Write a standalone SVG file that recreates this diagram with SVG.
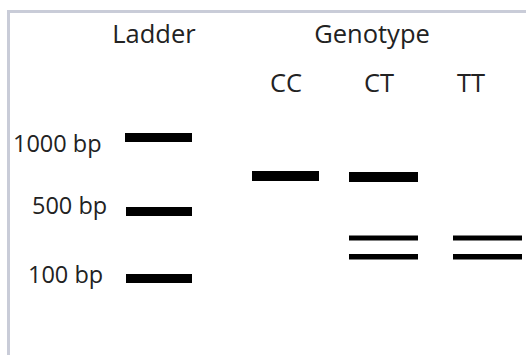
<svg xmlns="http://www.w3.org/2000/svg" width="526" height="355" viewBox="0 0 526 355">
<style>
.t{font-family:"Open Sans","Liberation Sans",sans-serif;fill:#222;}
.h{font-size:25.5px;}
.l{font-size:23.5px;}
.b{fill:#000;}
</style>
<rect width="526" height="355" fill="#fff"/>
<g id="frame">
<path d="M8.5,355 V11.5 H526" fill="none" stroke="#c9ccd8" stroke-width="3"/>
</g>
<g id="headers">
<text class="t h" x="154" y="43" text-anchor="middle">Ladder</text>
<text class="t h" x="372" y="43" text-anchor="middle">Genotype</text>
<text class="t h" x="286" y="92" text-anchor="middle">CC</text>
<text class="t h" x="379" y="92" text-anchor="middle">CT</text>
<text class="t h" x="471" y="92" text-anchor="middle">TT</text>
</g>
<g id="ladder">
<text class="t l" x="13" y="152">1000 bp</text>
<text class="t l" x="32" y="214">500 bp</text>
<text class="t l" x="28" y="283">100 bp</text>
<rect class="b" x="125" y="133" width="67" height="9"/>
<rect class="b" x="126" y="207" width="66" height="9"/>
<rect class="b" x="126" y="274" width="66" height="9"/>
</g>
<g id="lane-CC">
<rect class="b" x="252" y="171" width="67" height="10"/>
</g>
<g id="lane-CT">
<rect class="b" x="349" y="172" width="69" height="10"/>
<rect class="b" x="349" y="235.5" width="69" height="5"/>
<rect class="b" x="349" y="254" width="69" height="5.5"/>
</g>
<g id="lane-TT">
<rect class="b" x="453" y="235.5" width="69" height="5"/>
<rect class="b" x="453" y="254" width="69" height="5.5"/>
</g>
<g id="connectors"/>
</svg>
